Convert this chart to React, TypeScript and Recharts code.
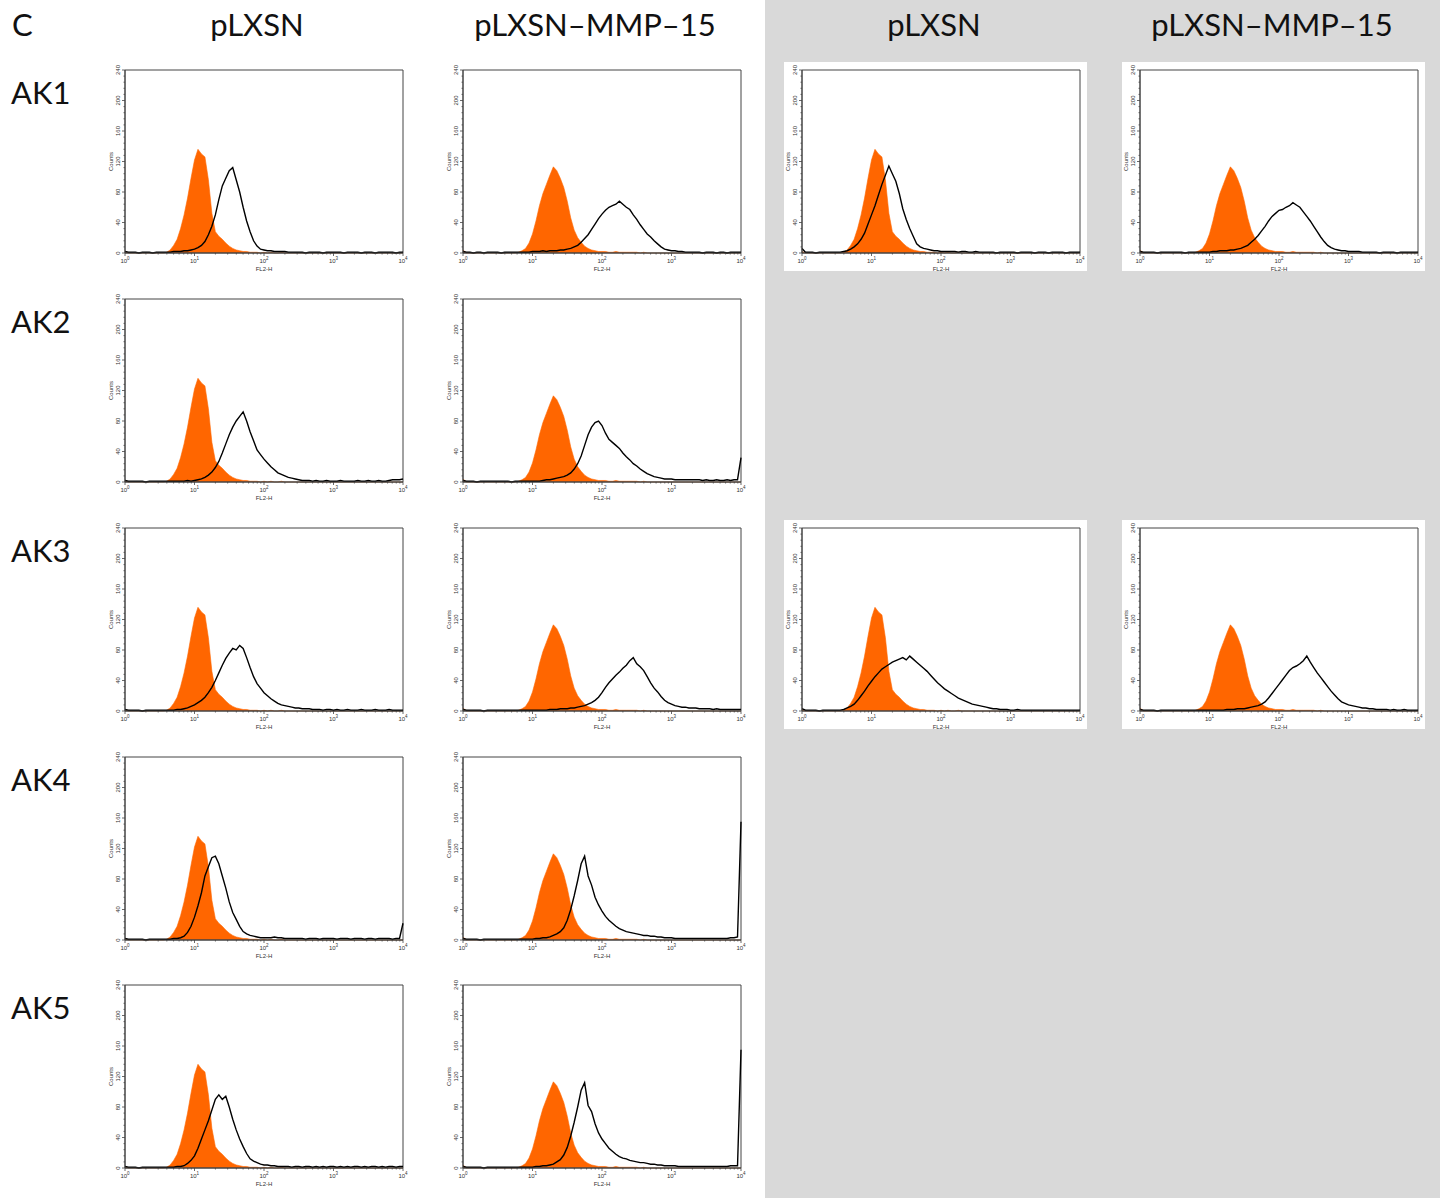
import { ComposedChart, Area, Line, XAxis, YAxis, ReferenceArea } from 'recharts'

// FL2-H bins, in decades (10^0 .. 10^4), 0.05 decade apart
const BINS = Array.from({ length: 81 }, (_, i) => +(i * 0.05).toFixed(2))

// isotype control (orange, filled) — pLXSN columns
const ISO_PLXSN = [
  2, 0, 0, 0, 0, 0, 0, 0, 0, 0,
  0, 0, 1, 4, 10, 18, 32, 50, 72, 98,
  122, 136, 130, 126, 96, 52, 28, 22, 18, 13,
  9, 6, 4, 3, 2, 2, 1, 1, 1, 0,
  1, 0, 1, 0, 0, 1, 0, 0, 0, 0,
  0, 0, 0, 0, 0, 0, 0, 0, 0, 0,
  0, 0, 0, 0, 0, 0, 0, 0, 0, 0,
  0, 0, 0, 0, 0, 0, 0, 0, 0, 0,
  0,
]
// isotype control (orange, filled) — pLXSN-MMP-15 columns
const ISO_MMP15 = [
  4, 0, 0, 0, 0, 0, 0, 0, 0, 0,
  0, 0, 0, 0, 0, 0, 1, 3, 6, 13,
  25, 42, 62, 78, 90, 102, 113, 108, 98, 86,
  68, 46, 30, 20, 14, 9, 6, 4, 3, 2,
  2, 2, 1, 1, 2, 1, 1, 1, 1, 1,
  1, 0, 1, 0, 0, 0, 0, 0, 0, 0,
  0, 0, 0, 0, 0, 0, 0, 0, 0, 0,
  0, 0, 0, 0, 0, 0, 0, 0, 0, 0,
  0,
]

// stained cells (black line)
const AK1_PLXSN = [
  2, 1, 1, 1, 0, 1, 1, 1, 0, 1,
  1, 1, 1, 1, 2, 2, 2, 3, 3, 4,
  5, 7, 10, 15, 24, 35, 50, 70, 88, 98,
  108, 112, 96, 80, 60, 42, 28, 16, 9, 5,
  4, 3, 3, 2, 2, 2, 2, 1, 1, 1,
  1, 1, 0, 1, 1, 1, 1, 0, 1, 1,
  1, 1, 1, 0, 1, 1, 1, 1, 0, 1,
  1, 1, 0, 1, 1, 1, 1, 1, 0, 1,
  1,
]
const AK1_MMP15 = [
  2, 1, 1, 0, 1, 1, 0, 1, 1, 1,
  1, 0, 1, 1, 1, 1, 1, 1, 1, 1,
  2, 2, 2, 3, 2, 3, 3, 3, 4, 4,
  5, 6, 8, 10, 14, 19, 24, 31, 38, 45,
  51, 56, 60, 62, 64, 68, 64, 60, 57, 50,
  44, 37, 31, 25, 21, 16, 12, 8, 5, 4,
  3, 3, 2, 2, 1, 1, 1, 1, 1, 0,
  1, 1, 1, 0, 1, 1, 0, 1, 1, 1,
  1,
]
const AK1_PLXSN_B = [
  6, 1, 1, 1, 0, 1, 1, 1, 1, 1,
  1, 1, 2, 3, 5, 8, 12, 18, 26, 38,
  50, 62, 76, 90, 102, 114, 104, 94, 78, 58,
  44, 32, 22, 12, 8, 6, 5, 4, 3, 3,
  2, 2, 2, 2, 2, 1, 2, 2, 1, 1,
  2, 1, 1, 1, 1, 1, 0, 1, 1, 1,
  1, 1, 0, 1, 1, 1, 1, 0, 1, 1,
  1, 0, 1, 1, 1, 1, 0, 1, 1, 1,
  1,
]
const AK1_MMP15_B = [
  2, 1, 1, 1, 1, 0, 1, 1, 1, 1,
  1, 1, 1, 0, 1, 1, 1, 1, 1, 1,
  1, 2, 2, 3, 3, 3, 4, 4, 5, 6,
  8, 10, 14, 18, 23, 29, 35, 42, 48, 52,
  56, 57, 60, 62, 66, 63, 60, 54, 48, 42,
  35, 28, 21, 15, 10, 7, 5, 4, 3, 3,
  2, 2, 2, 2, 1, 1, 1, 1, 1, 0,
  1, 1, 1, 1, 0, 1, 1, 1, 1, 1,
  1,
]
const AK2_PLXSN = [
  2, 1, 1, 1, 1, 1, 0, 1, 1, 1,
  1, 1, 1, 1, 1, 1, 1, 1, 2, 1,
  2, 3, 4, 6, 9, 13, 19, 27, 38, 50,
  62, 72, 80, 86, 92, 80, 66, 54, 42, 36,
  30, 25, 20, 16, 12, 10, 8, 6, 5, 4,
  3, 2, 2, 2, 1, 2, 1, 1, 2, 1,
  1, 1, 2, 1, 1, 1, 1, 2, 1, 1,
  2, 1, 1, 2, 1, 1, 2, 3, 3, 3,
  4,
]
const AK2_MMP15 = [
  2, 1, 1, 1, 0, 1, 1, 1, 1, 1,
  1, 1, 1, 1, 0, 1, 1, 1, 1, 1,
  1, 1, 1, 2, 3, 3, 4, 5, 6, 7,
  9, 12, 17, 24, 34, 48, 62, 72, 78, 80,
  74, 64, 56, 52, 48, 44, 38, 33, 29, 24,
  21, 17, 14, 11, 9, 7, 6, 5, 4, 4,
  4, 3, 3, 3, 3, 3, 3, 3, 3, 2,
  3, 2, 2, 3, 2, 2, 3, 2, 3, 3,
  32,
]
const AK3_PLXSN = [
  2, 1, 1, 1, 1, 0, 1, 1, 1, 1,
  1, 1, 1, 1, 1, 2, 2, 3, 4, 6,
  8, 11, 14, 18, 24, 31, 40, 50, 60, 69,
  76, 82, 80, 86, 82, 70, 57, 45, 36, 30,
  24, 20, 16, 13, 10, 8, 7, 6, 5, 4,
  4, 3, 3, 3, 2, 2, 2, 1, 2, 2,
  1, 2, 1, 1, 2, 1, 1, 1, 2, 1,
  1, 1, 2, 1, 1, 1, 2, 1, 1, 1,
  1,
]
const AK3_MMP15 = [
  2, 1, 1, 1, 1, 1, 0, 1, 1, 1,
  1, 1, 1, 1, 1, 1, 1, 1, 1, 1,
  1, 1, 1, 1, 1, 2, 2, 2, 3, 3,
  3, 4, 4, 5, 6, 7, 9, 11, 14, 18,
  24, 31, 37, 42, 47, 51, 56, 60, 66, 70,
  62, 58, 53, 45, 37, 30, 25, 19, 14, 11,
  9, 7, 6, 5, 5, 4, 4, 4, 3, 3,
  3, 3, 2, 3, 2, 2, 2, 2, 2, 2,
  2,
]
const AK3_PLXSN_B = [
  3, 1, 1, 1, 1, 0, 1, 1, 1, 1,
  1, 1, 2, 4, 6, 9, 14, 20, 26, 33,
  39, 45, 50, 55, 58, 61, 64, 66, 68, 70,
  67, 72, 68, 64, 60, 56, 52, 47, 42, 37,
  33, 29, 26, 23, 20, 17, 15, 13, 11, 9,
  8, 7, 6, 5, 4, 3, 3, 2, 2, 2,
  1, 1, 2, 1, 1, 1, 1, 1, 1, 1,
  1, 1, 1, 1, 1, 1, 1, 1, 1, 1,
  1,
]
const AK3_MMP15_B = [
  2, 1, 1, 1, 1, 0, 1, 1, 1, 1,
  1, 1, 1, 1, 1, 1, 1, 1, 1, 1,
  1, 1, 1, 1, 1, 2, 2, 2, 3, 3,
  3, 4, 5, 6, 7, 9, 12, 17, 23, 29,
  35, 41, 47, 53, 57, 59, 62, 66, 72, 64,
  57, 50, 44, 38, 32, 26, 21, 16, 12, 10,
  8, 7, 6, 5, 4, 4, 3, 3, 2, 2,
  2, 2, 1, 2, 1, 1, 2, 1, 1, 1,
  1,
]
const AK4_PLXSN = [
  2, 1, 1, 1, 1, 1, 0, 1, 1, 1,
  1, 1, 1, 1, 2, 2, 3, 5, 10, 18,
  30, 45, 62, 84, 96, 108, 110, 100, 84, 68,
  50, 36, 27, 18, 11, 8, 6, 5, 4, 3,
  3, 3, 3, 4, 3, 3, 2, 2, 2, 2,
  2, 2, 1, 2, 2, 2, 1, 2, 2, 2,
  2, 1, 2, 2, 2, 1, 2, 2, 2, 1,
  2, 2, 1, 2, 2, 2, 2, 1, 2, 2,
  22,
]
const AK4_MMP15 = [
  2, 1, 1, 1, 1, 0, 1, 1, 1, 1,
  1, 1, 1, 1, 1, 1, 1, 1, 1, 1,
  1, 2, 2, 3, 3, 4, 6, 8, 11, 16,
  26, 40, 58, 78, 100, 110, 84, 72, 56, 46,
  38, 31, 26, 22, 18, 15, 13, 11, 10, 9,
  8, 7, 6, 6, 5, 5, 4, 4, 3, 3,
  3, 2, 2, 2, 2, 2, 2, 2, 2, 2,
  2, 2, 2, 2, 2, 2, 2, 3, 3, 4,
  155,
]
const AK5_PLXSN = [
  2, 1, 1, 1, 0, 1, 1, 1, 1, 1,
  1, 1, 1, 1, 1, 2, 2, 3, 6, 10,
  16, 26, 38, 50, 62, 76, 90, 96, 90, 94,
  80, 64, 50, 38, 28, 19, 12, 9, 7, 5,
  4, 4, 3, 3, 2, 2, 2, 2, 1, 2,
  2, 1, 2, 2, 1, 2, 1, 2, 1, 2,
  2, 1, 2, 1, 2, 1, 2, 2, 1, 2,
  1, 2, 2, 1, 2, 1, 2, 2, 1, 2,
  2,
]
const AK5_MMP15 = [
  2, 1, 1, 1, 1, 1, 0, 1, 1, 1,
  1, 1, 1, 1, 1, 1, 1, 1, 1, 1,
  1, 2, 2, 3, 3, 4, 5, 8, 11, 17,
  27, 42, 60, 80, 102, 112, 82, 74, 58, 46,
  38, 32, 26, 22, 18, 15, 13, 12, 10, 9,
  8, 7, 7, 6, 5, 5, 4, 4, 3, 3,
  3, 3, 2, 2, 2, 2, 2, 2, 2, 2,
  2, 2, 2, 2, 2, 2, 2, 3, 3, 3,
  155,
]

const COL_LABELS = ['pLXSN', 'pLXSN–MMP–15', 'pLXSN', 'pLXSN–MMP–15']
const ROW_LABELS = ['AK1', 'AK2', 'AK3', 'AK4', 'AK5']

// plot box origin for each column / row
const COL_X = [125, 463, 802, 1140]
const ROW_Y = [70, 299, 528, 757, 985]
const BOX_W = 278
const BOX_H = 183

const PANELS = [
  { col: 0, row: 0, iso: ISO_PLXSN, pos: AK1_PLXSN },
  { col: 1, row: 0, iso: ISO_MMP15, pos: AK1_MMP15 },
  { col: 2, row: 0, iso: ISO_PLXSN, pos: AK1_PLXSN_B },
  { col: 3, row: 0, iso: ISO_MMP15, pos: AK1_MMP15_B },
  { col: 0, row: 1, iso: ISO_PLXSN, pos: AK2_PLXSN },
  { col: 1, row: 1, iso: ISO_MMP15, pos: AK2_MMP15 },
  { col: 0, row: 2, iso: ISO_PLXSN, pos: AK3_PLXSN },
  { col: 1, row: 2, iso: ISO_MMP15, pos: AK3_MMP15 },
  { col: 2, row: 2, iso: ISO_PLXSN, pos: AK3_PLXSN_B },
  { col: 3, row: 2, iso: ISO_MMP15, pos: AK3_MMP15_B },
  { col: 0, row: 3, iso: ISO_PLXSN, pos: AK4_PLXSN },
  { col: 1, row: 3, iso: ISO_MMP15, pos: AK4_MMP15 },
  { col: 0, row: 4, iso: ISO_PLXSN, pos: AK5_PLXSN },
  { col: 1, row: 4, iso: ISO_MMP15, pos: AK5_MMP15 },
]

const X_TICKS: number[] = []
for (let n = 0; n < 4; n++) {
  X_TICKS.push(n)
  for (let k = 2; k <= 9; k++) X_TICKS.push(n + Math.log10(k))
}
X_TICKS.push(4)
const Y_TICKS = Array.from({ length: 31 }, (_, i) => i * 8)

const ORANGE = '#ff6600'
const AXIS = '#444'
const TICK_FONT = '"Liberation Sans", Arial, sans-serif'

const XTick = (props: any) => {
  const { x, y, payload } = props
  const v = payload.value
  const major = Math.abs(v - Math.round(v)) < 1e-6
  return (
    <g>
      <line x1={x} x2={x} y1={y} y2={y + (major ? 3 : 1.5)} stroke={AXIS} strokeWidth={0.8} />
      {major && (
        <text x={x} y={y + 10} textAnchor="middle" fontSize={6} fill="#333" fontFamily={TICK_FONT}>
          10<tspan dy={-3} fontSize={4.5}>{Math.round(v)}</tspan>
        </text>
      )}
      {major && Math.round(v) === 2 && (
        <text x={x} y={y + 18} textAnchor="middle" fontSize={6} fill="#333" fontFamily={TICK_FONT}>
          FL2-H
        </text>
      )}
    </g>
  )
}

const YTick = (props: any) => {
  const { x, y, payload } = props
  const v = payload.value
  const major = v % 40 === 0
  return (
    <g>
      <line x1={x} x2={x - (major ? 3 : 1.5)} y1={y} y2={y} stroke={AXIS} strokeWidth={0.8} />
      {major && (
        <text
          x={x - 5}
          y={y}
          transform={`rotate(-90 ${x - 5} ${y})`}
          textAnchor="middle"
          fontSize={6}
          fill="#333"
          fontFamily={TICK_FONT}
        >
          {v}
        </text>
      )}
      {v === 120 && (
        <text
          x={x - 12}
          y={y}
          transform={`rotate(-90 ${x - 12} ${y})`}
          textAnchor="middle"
          fontSize={6}
          fill="#333"
          fontFamily={TICK_FONT}
        >
          Counts
        </text>
      )}
    </g>
  )
}

const Histogram = ({ iso, pos }: { iso: number[]; pos: number[] }) => {
  const data = BINS.map((d, i) => ({ d, iso: iso[i], pos: pos[i] }))
  return (
    <ComposedChart
      width={25 + BOX_W + 15}
      height={10 + BOX_H + 22}
      data={data}
      margin={{ top: 10, right: 15, bottom: 0, left: 0 }}
    >
      <XAxis
        dataKey="d"
        type="number"
        domain={[0, 4]}
        ticks={X_TICKS}
        interval={0}
        height={22}
        tickSize={0}
        tickMargin={0}
        tickLine={false}
        axisLine={{ stroke: AXIS }}
        tick={<XTick />}
      />
      <YAxis
        type="number"
        domain={[0, 240]}
        ticks={Y_TICKS}
        interval={0}
        width={25}
        tickSize={0}
        tickMargin={0}
        tickLine={false}
        axisLine={{ stroke: AXIS }}
        tick={<YTick />}
      />
      <Area
        dataKey="iso"
        type="linear"
        fill={ORANGE}
        fillOpacity={1}
        stroke={ORANGE}
        strokeWidth={0.6}
        isAnimationActive={false}
      />
      <Line
        dataKey="pos"
        type="linear"
        stroke="#000"
        strokeWidth={1.4}
        dot={false}
        isAnimationActive={false}
      />
      <ReferenceArea x1={0} x2={4} y1={0} y2={240} fill="none" stroke={AXIS} strokeWidth={1} />
    </ComposedChart>
  )
}

export default function App() {
  const font = 'Lato, "Open Sans", sans-serif'
  return (
    <div style={{ position: 'absolute', left: 0, top: 0, width: 1440, height: 1198, background: '#fff' }}>
      <svg width={1440} height={1198} style={{ position: 'absolute', left: 0, top: 0 }}>
        <rect x={765} y={0} width={675} height={1198} fill="#d9d9d9" />
        {PANELS.filter((p) => p.col >= 2).map((p, i) => (
          <rect key={i} x={COL_X[p.col] - 18} y={ROW_Y[p.row] - 8} width={303} height={209} fill="#fff" />
        ))}
        <text x={12} y={36} fontSize={31} fontFamily={font} fill="#111">
          C
        </text>
        {COL_LABELS.map((t, i) => (
          <text key={t + i} x={COL_X[i] + BOX_W / 2 - 7} y={36} fontSize={31} fontFamily={font} fill="#111" textAnchor="middle">
            {t}
          </text>
        ))}
        {ROW_LABELS.map((t, i) => (
          <text key={t} x={11} y={ROW_Y[i] + 34} fontSize={31} fontFamily={font} fill="#111">
            {t}
          </text>
        ))}
      </svg>
      {PANELS.map((p, i) => (
        <div key={i} style={{ position: 'absolute', left: COL_X[p.col] - 25, top: ROW_Y[p.row] - 10 }}>
          <Histogram iso={p.iso} pos={p.pos} />
        </div>
      ))}
    </div>
  )
}
